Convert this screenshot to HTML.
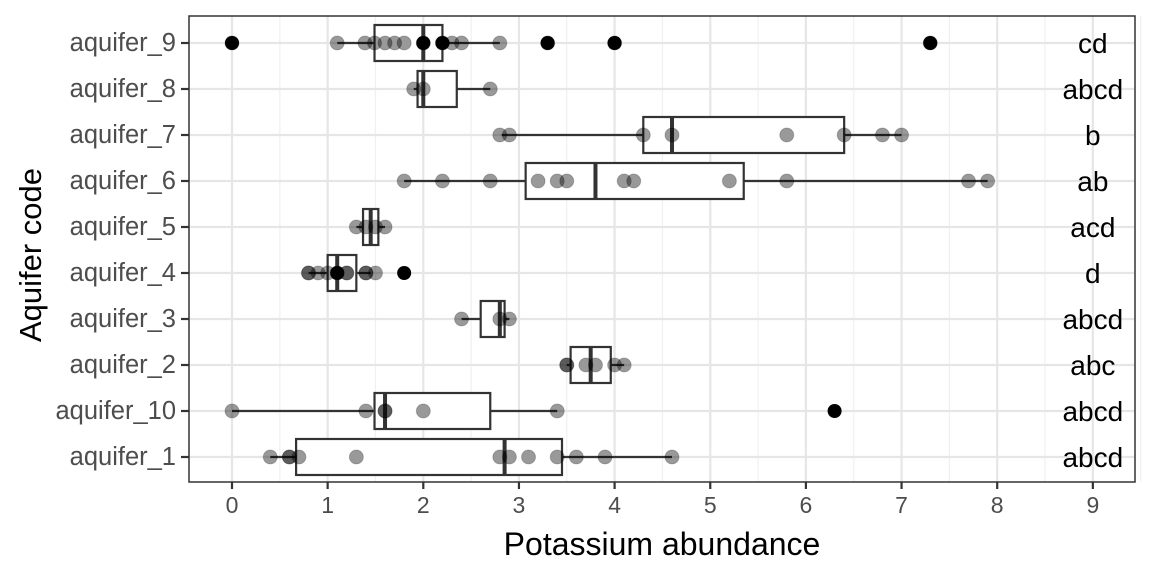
<!DOCTYPE html>
<html><head><meta charset="utf-8"><style>body{margin:0;background:#fff}svg{display:block}</style></head>
<body>
<svg id="s" width="1152" height="576" xmlns="http://www.w3.org/2000/svg" font-family="Liberation Sans, Arial, sans-serif"></svg>
<script>
const X0=232,U=95.65,L=189,T=16,R=1135,B=482;
const px=v=>X0+v*U;
const rows=[
 ["aquifer_9","cd",[1.49,2.0,2.2],[1.1,2.8],[1.1,1.39,1.49,1.6,1.7,1.8,2.0,2.2,2.3,2.4,2.8,0,3.3,4.0,7.3],[0,3.3,4.0,7.3,2.0,2.2]],
 ["aquifer_8","abcd",[1.94,2.0,2.35],[1.9,2.7],[1.9,2.0,2.7],[]],
 ["aquifer_7","b",[4.3,4.6,6.4],[2.82,7.0],[2.8,2.9,4.3,4.6,5.8,6.4,6.8,7.0],[]],
 ["aquifer_6","ab",[3.07,3.8,5.35],[1.8,7.9],[1.8,2.2,2.7,3.2,3.4,3.5,4.1,4.2,5.2,5.8,7.7,7.9],[]],
 ["aquifer_5","acd",[1.37,1.45,1.53],[1.3,1.6],[1.3,1.4,1.5,1.6],[]],
 ["aquifer_4","d",[1.0,1.1,1.3],[0.8,1.45],[0.8,0.9,1.0,1.1,1.2,1.4,1.5,0.8,1.2,1.4],[1.8,1.1]],
 ["aquifer_3","abcd",[2.6,2.8,2.85],[2.4,2.9],[2.4,2.8,2.9],[]],
 ["aquifer_2","abc",[3.54,3.75,3.96],[3.5,4.1],[3.5,3.5,3.7,3.8,4.0,4.1],[]],
 ["aquifer_10","abcd",[1.49,1.6,2.7],[0,3.4],[0,1.4,1.6,2.0,3.4,1.6],[6.3]],
 ["aquifer_1","abcd",[0.67,2.85,3.45],[0.4,4.6],[0.4,0.6,0.6,0.7,1.3,2.8,2.9,3.1,3.4,3.6,3.9,4.6],[]]
];
let h=`<rect x="${L}" y="${T}" width="${R-L}" height="${B-T}" fill="#fff"/>`;
for(let v=0.5;v<9.6;v+=1)h+=`<line x1="${px(v)}" x2="${px(v)}" y1="${T}" y2="${B}" stroke="#f0f0f0" stroke-width="1.2"/>`;
for(let v=0;v<=9;v++)h+=`<line x1="${px(v)}" x2="${px(v)}" y1="${T}" y2="${B}" stroke="#e6e6e6" stroke-width="2.2"/>`;
rows.forEach((r,i)=>{const y=43+i*46;h+=`<line x1="${L}" x2="${R}" y1="${y}" y2="${y}" stroke="#e6e6e6" stroke-width="2.2"/>`;});
rows.forEach((r,i)=>{const y=43+i*46;const [q1,m,q3]=r[2],[w1,w2]=r[3];
 h+=`<line x1="${px(w1)}" x2="${px(q1)}" y1="${y}" y2="${y}" stroke="#333" stroke-width="2.2"/><line x1="${px(q3)}" x2="${px(w2)}" y1="${y}" y2="${y}" stroke="#333" stroke-width="2.2"/>`;
 h+=`<rect x="${px(q1)}" y="${y-18}" width="${px(q3)-px(q1)}" height="36" fill="#fff" stroke="#333" stroke-width="2.2"/>`;
 h+=`<line x1="${px(m)}" x2="${px(m)}" y1="${y-18}" y2="${y+18}" stroke="#333" stroke-width="4"/>`;
 r[5].forEach(v=>h+=`<circle cx="${px(v)}" cy="${y}" r="7" fill="#000"/>`);
 r[4].forEach(v=>h+=`<circle cx="${px(v)}" cy="${y}" r="7" fill="#000" fill-opacity="0.4" stroke="#000" stroke-opacity="0.2"/>`);
 h+=`<text x="${px(9)}" y="${y+10}" font-size="28" text-anchor="middle" fill="#000">${r[1]}</text>`;
 h+=`<line x1="181" x2="${L}" y1="${y}" y2="${y}" stroke="#333" stroke-width="2.2"/>`;
 h+=`<text x="176" y="${y+8}" font-size="25.5" text-anchor="end" fill="#4d4d4d">${r[0]}</text>`;
});
h+=`<rect x="${L}" y="${T}" width="${R-L}" height="${B-T}" fill="none" stroke="#333" stroke-width="1.5"/>`;
for(let v=0;v<=9;v++)h+=`<line x1="${px(v)}" x2="${px(v)}" y1="${B}" y2="${B+7}" stroke="#333" stroke-width="2.2"/><text x="${px(v)}" y="${B+31}" font-size="23" text-anchor="middle" fill="#4d4d4d">${v}</text>`;
h+=`<text x="662" y="555" font-size="32" text-anchor="middle" fill="#000">Potassium abundance</text>`;
h+=`<text transform="translate(41,255) rotate(-90)" font-size="31" text-anchor="middle" fill="#000">Aquifer code</text>`;
document.getElementById('s').innerHTML=h;
</script>
</body></html>
